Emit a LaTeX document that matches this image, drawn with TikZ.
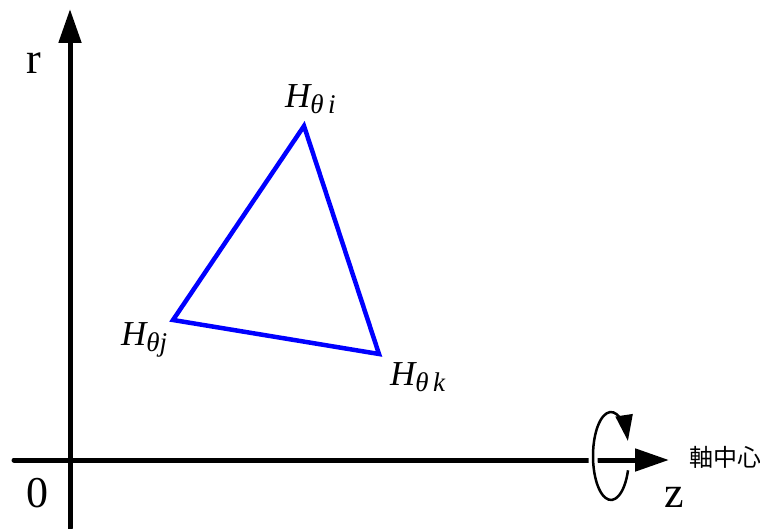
\documentclass[tikz,border=0pt]{standalone}
\usepackage{fontspec}
\setmainfont{Liberation Serif}
\newfontfamily\cjk{Noto Sans CJK JP}
\usetikzlibrary{arrows.meta}

\begin{document}
\begin{tikzpicture}[x=1pt,y=-1pt,
    axis/.style={line width=5pt,line cap=round,-{Triangle[length=34pt,width=22pt]}},
    vlab/.style={anchor=base west,inner sep=0pt,font=\fontsize{35}{40}\selectfont\itshape},
    alab/.style={anchor=base west,inner sep=0pt,font=\fontsize{44}{46}\selectfont}]
    \useasboundingbox (0,0) rectangle (760,529);
    % axes
    \coordinate (rfoot) at (70,528);
    \coordinate (rtip) at (70,9);
    \coordinate (zfoot) at (14,460);
    \coordinate (ztip) at (669,460);
    \draw[axis] (rfoot) -- (rtip);
    \draw[axis] (zfoot) -- (ztip);
    \node[alab] (r) at (26,74) {r};
    \node[alab] (o) at (26,507) {0};
    \node[alab] (z) at (664,507) {z};
    % rotation about the axis
    \coordinate (rot) at (611,456);
    \draw[white,line width=9pt] ([shift={(150:18 and 44)}]rot) arc[start angle=150,end angle=210,x radius=18,y radius=44];
    \draw[line width=2.5pt,-{Triangle[length=26pt,width=17pt]}] ([shift={(19:18 and 44)}]rot) arc[start angle=19,end angle=340,x radius=18,y radius=44];
    \node[anchor=west,inner sep=0pt,font=\cjk\fontsize{24}{28}\selectfont] (axc) at (689,457) {軸中心};
    % element
    \coordinate (hi) at (304,126);
    \coordinate (hj) at (173,320);
    \coordinate (hk) at (379,354);
    \draw[blue,line width=4.5pt,line join=miter] (hi) -- (hj) -- (hk) -- cycle;
    \foreach \n/\pos/\sub in {li/{(285,108)}/{\,i},lj/{(121,345)}/j,lk/{(390,385)}/{\,k}}{
      \node[vlab] (\n) at \pos {H\fontsize{27}{30}\selectfont\raisebox{-6pt}{θ\sub}};
    }
\end{tikzpicture}
\end{document}
